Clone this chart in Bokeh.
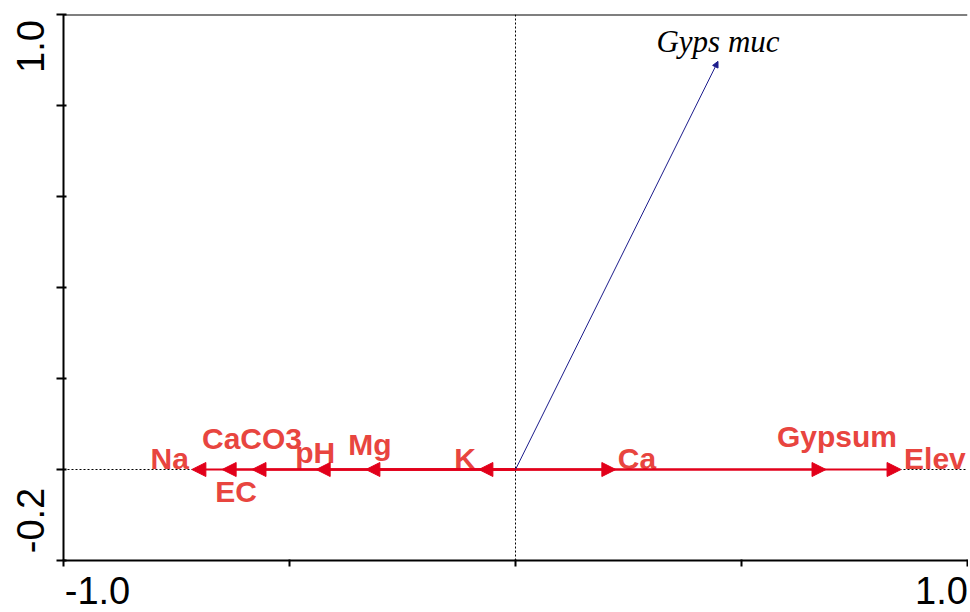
import math
from bokeh.plotting import figure
from bokeh.models import (Arrow, NormalHead, ColumnDataSource, Span, FixedTicker,
                          LinearAxis, Range1d)
from bokeh.embed import file_html
from bokeh.resources import INLINE
from bokeh.core.properties import value, field

# ---- data ----
env_names = ["Na", "EC", "CaCO3", "pH", "Mg", "K", "Ca", "Gypsum", "Elev"]
env_x = [-0.716, -0.649, -0.583, -0.441, -0.331, -0.081, 0.222, 0.687, 0.853]
env_y = [0.0, 0.0, 0.0, 0.0, 0.0, 0.0, 0.0, 0.0, 0.0]

species_names = ["Gyps muc"]
species_x = [0.448]
species_y = [0.897]

x_ticks = [-1.0, -0.5, 0.0, 0.5, 1.0]
y_ticks = [-0.2, 0.0, 0.2, 0.4, 0.6, 0.8, 1.0]
x_end_labels = ["-1.0", "1.0"]
y_end_labels = ["-0.2", "1.0"]

# ---- label layout (screen px offsets) ----
env_label_align = ["right", "center", "center", "center", "center", "right", "left", "center", "left"]
env_label_dx = [-3, 14, 0, -1, 4, -3, 2, 11, 3]
env_label_dy = [-11, 22, -31, -17, -25, -11, -11, -33, -11]
x_label_px = [34, 878]      # label centres, px from frame left
y_label_px = [40, 514]      # label centres, px from frame bottom

RED_LINE = "#E2001A"
RED_TEXT = "#E8453F"
BLUE = "#1C1C8C"

W, H = 968, 610
MBL, MBR, MBT, MBB = 63, 1, 14, 50
X0, X1 = -1.0, 1.0
Y0, Y1 = -0.2, 1.0
FW = W - MBL - MBR
FH = H - MBT - MBB

p = figure(width=W, height=H, x_range=(X0, X1), y_range=(Y0, Y1),
           output_backend="svg", toolbar_location=None,
           min_border_left=MBL, min_border_right=MBR, min_border_top=MBT, min_border_bottom=MBB)
p.outline_line_color = None
p.grid.visible = False
p.background_fill_color = "white"
p.border_fill_color = "white"
p.extra_x_ranges = {"xpx": Range1d(0, FW)}
p.extra_y_ranges = {"ypx": Range1d(0, FH)}

for ax, ticks, tin, tout in ((p.xaxis[0], x_ticks, 1, 6), (p.yaxis[0], y_ticks, 3, 7)):
    ax.ticker = FixedTicker(ticks=ticks, minor_ticks=[])
    ax.major_label_overrides = {t: "" for t in ticks}
    ax.major_label_text_font_size = "0px"
    ax.major_label_standoff = 0
    ax.axis_line_width = 2
    ax.axis_line_color = "black"
    ax.major_tick_line_width = 2
    ax.major_tick_line_color = "black"
    ax.major_tick_in = tin
    ax.major_tick_out = tout
    ax.minor_tick_line_color = None

# end-of-axis tick labels on label-only axes
xlab = LinearAxis(x_range_name="xpx",
                  ticker=FixedTicker(ticks=x_label_px, minor_ticks=[]),
                  major_label_overrides=dict(zip(x_label_px, x_end_labels)),
                  axis_line_color=None, major_tick_line_color=None, minor_tick_line_color=None,
                  major_tick_in=0, major_tick_out=0, major_label_standoff=10,
                  major_label_text_font="Liberation Sans",
                  major_label_text_font_size="38px", major_label_text_color="black")
p.add_layout(xlab, "below")
ylab = LinearAxis(y_range_name="ypx",
                  ticker=FixedTicker(ticks=y_label_px, minor_ticks=[]),
                  major_label_overrides=dict(zip(y_label_px, y_end_labels)),
                  axis_line_color=None, major_tick_line_color=None, minor_tick_line_color=None,
                  major_tick_in=0, major_tick_out=0, major_label_standoff=13,
                  major_label_orientation="parallel",
                  major_label_text_font="Liberation Sans",
                  major_label_text_font_size="38px", major_label_text_color="black")
p.add_layout(ylab, "left")

# frame top border and dashed zero lines
p.add_layout(Span(location=y_ticks[-1], dimension="width", line_color="black", line_width=2))
p.add_layout(Span(location=0, dimension="height", line_color="black", line_width=1, line_dash="2 2"))
p.add_layout(Span(location=0, dimension="width", line_color="black", line_width=1, line_dash="2 2"))

# environmental arrows
n = len(env_names)
env_src = ColumnDataSource(dict(
    x0=[0.0] * n, y0=[0.0] * n, x=env_x, y=env_y, name=env_names,
    align=env_label_align, dx=env_label_dx, dy=env_label_dy))
p.add_layout(Arrow(end=NormalHead(size=14, fill_color=RED_LINE, line_color=RED_LINE, line_width=1),
                   x_start="x0", y_start="y0", x_end="x", y_end="y", source=env_src,
                   line_color=RED_LINE, line_width=2))

# species arrow
sp_src = ColumnDataSource(dict(x0=[0.0], y0=[0.0], x=species_x, y=species_y, name=species_names))
p.add_layout(Arrow(end=NormalHead(size=6, fill_color=BLUE, line_color=BLUE, line_width=1),
                   x_start="x0", y_start="y0", x_end="x", y_end="y", source=sp_src,
                   line_color=BLUE, line_width=1))

p.text(x="x", y="y", text="name", source=env_src, x_offset="dx", y_offset="dy",
       text_align=field("align"), text_baseline="alphabetic",
       text_font=value("Liberation Sans"), text_font_style="bold",
       text_font_size="30px", text_color=RED_TEXT)

p.text(x="x", y="y", text="name", source=sp_src, y_offset=-20,
       text_align="center", text_baseline="alphabetic",
       text_font=value("Liberation Serif"), text_font_style="italic",
       text_font_size="31px", text_color="black")

open("out.html", "w").write(file_html(p, INLINE))
